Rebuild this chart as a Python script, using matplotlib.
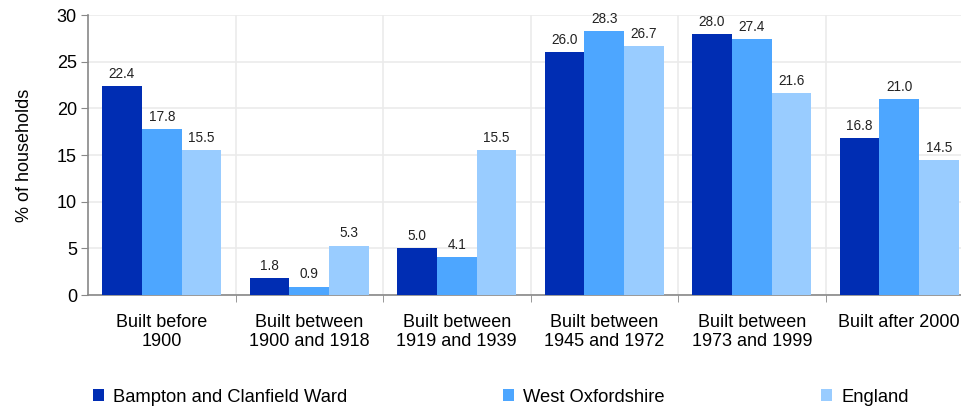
import matplotlib.pyplot as plt
import numpy as np

# data
categories = ["Built before\n1900", "Built between\n1900 and 1918", "Built between\n1919 and 1939",
              "Built between\n1945 and 1972", "Built between\n1973 and 1999", "Built after 2000"]
series_names = ["Bampton and Clanfield Ward", "West Oxfordshire", "England"]
ward = [22.4, 1.8, 5.0, 26.0, 28.0, 16.8]
district = [17.8, 0.9, 4.1, 28.3, 27.4, 21.0]
england = [15.5, 5.3, 15.5, 26.7, 21.6, 14.5]
colors = ["#002db3", "#4da6ff", "#99ccff"]

plt.rcParams['font.family'] = ['Liberation Sans', 'DejaVu Sans']

fig = plt.figure(figsize=(9.62, 4.07), dpi=100)
ax = fig.add_axes([88/962, 1-295/407, 885/962, 280/407])

x = np.arange(len(categories))
w = 0.27
for i, (vals, name, c) in enumerate(zip([ward, district, england], series_names, colors)):
    bars = ax.bar(x + (i-1)*w, vals, w, color=c, label=name, zorder=3)
    for b, v in zip(bars, vals):
        ax.text(b.get_x() + b.get_width()/2, v + 0.55, f"{v:.1f}", ha='center', va='bottom',
                fontsize=9.8, color='#222222', zorder=4)

ax.set_xlim(-0.5, len(categories) - 0.5)
ax.set_ylim(0, 30)
ax.set_yticks(range(0, 31, 5))
ax.set_xticks(x)
ax.set_xticklabels(categories, fontsize=13, linespacing=1.15)
ax.set_xticks(np.arange(0.5, len(categories) - 0.5), minor=True)
ax.tick_params(axis='x', which='major', length=0, pad=14)
ax.tick_params(axis='x', which='minor', length=5, color='#888888')
ax.tick_params(axis='y', labelsize=13, length=5, color='#888888', pad=3)
ax.set_ylabel("% of households", fontsize=13, labelpad=17)

ax.grid(axis='y', color='#ebebeb', linewidth=1.2, zorder=0)
ax.grid(axis='x', which='minor', color='#ebebeb', linewidth=1.2, zorder=0)
for s in ['top', 'right']:
    ax.spines[s].set_visible(False)
for s in ['left', 'bottom']:
    ax.spines[s].set_color('#888888')
    ax.spines[s].set_linewidth(1.2)

fig.legend(loc='center left', bbox_to_anchor=(93/962, 1-397/407), ncol=3, frameon=False,
           fontsize=13.2, handlelength=0.6, handleheight=0.6, handletextpad=0.5,
           columnspacing=8.5, borderaxespad=0, borderpad=0)

fig.savefig("out.png", dpi=100)
